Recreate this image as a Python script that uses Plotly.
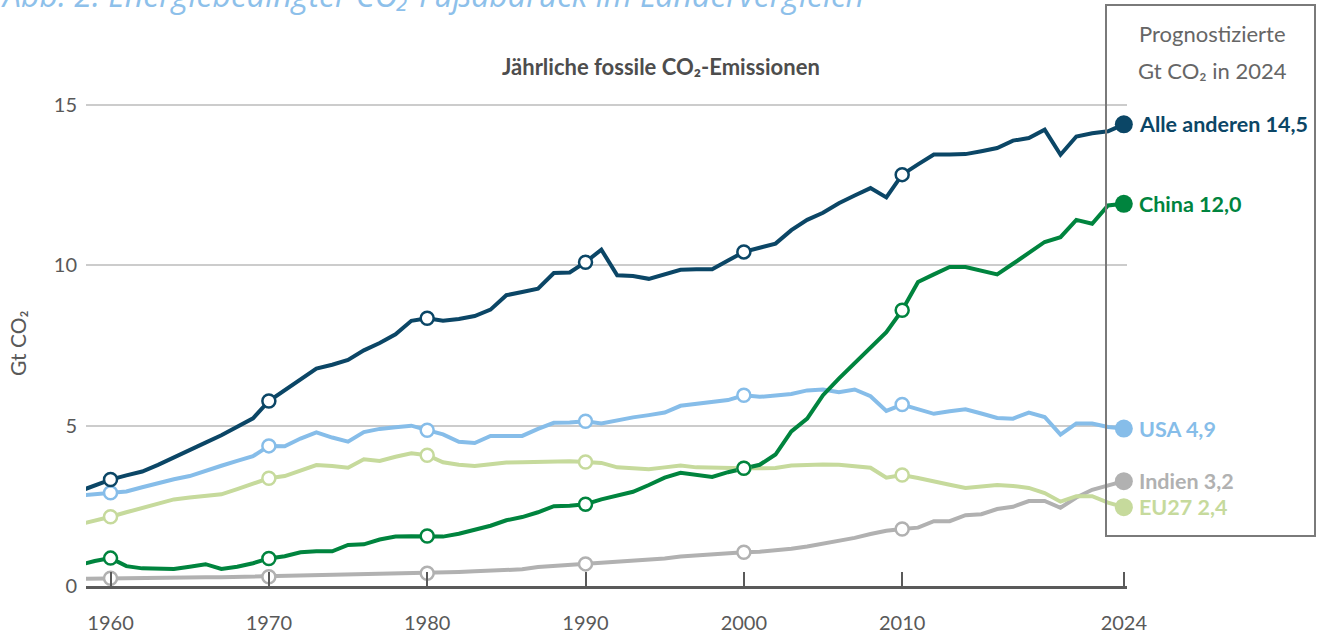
import plotly.graph_objects as go

# ---------------- data ----------------
years = list(range(1958, 2025))

alle_anderen = [2.95, 3.14, 3.32, 3.45, 3.57, 3.78, 4.00, 4.23, 4.47, 4.70, 4.95, 5.23,
                5.77, 6.10, 6.42, 6.78, 6.90, 7.05, 7.35, 7.58, 7.85, 8.27,
                8.35, 8.27, 8.33, 8.42, 8.62, 9.07, 9.17, 9.27, 9.76, 9.78,
                10.10, 10.49, 9.69, 9.67, 9.58, 9.72, 9.86, 9.88, 9.88, 10.15,
                10.42, 10.55, 10.68, 11.10, 11.42, 11.64, 11.94, 12.18, 12.41, 12.12,
                12.83, 13.15, 13.46, 13.46, 13.47, 13.56, 13.66, 13.89, 13.97, 14.23,
                13.45, 14.02, 14.12, 14.18, 14.40]

china = [0.65, 0.78, 0.87, 0.62, 0.55, 0.53, 0.53, 0.60, 0.68, 0.53, 0.60, 0.71,
         0.86, 0.93, 1.05, 1.08, 1.08, 1.28, 1.30, 1.45, 1.54, 1.55,
         1.56, 1.54, 1.63, 1.74, 1.88, 2.05, 2.15, 2.30, 2.49, 2.50,
         2.55, 2.70, 2.82, 2.94, 3.15, 3.38, 3.53, 3.48, 3.40, 3.55,
         3.67, 3.78, 4.10, 4.82, 5.22, 5.95, 6.47, 6.95, 7.45, 7.92,
         8.60, 9.48, 9.72, 9.95, 9.95, 9.83, 9.72, 10.05, 10.40, 10.73,
         10.88, 11.42, 11.30, 11.87, 11.92]

usa = [2.82, 2.87, 2.91, 2.95, 3.08, 3.22, 3.33, 3.43, 3.60, 3.75, 3.90, 4.05,
       4.37, 4.36, 4.60, 4.79, 4.63, 4.50, 4.80, 4.90, 4.95, 5.00,
       4.86, 4.73, 4.50, 4.46, 4.68, 4.68, 4.68, 4.90, 5.09, 5.10,
       5.14, 5.07, 5.17, 5.26, 5.33, 5.41, 5.62, 5.68, 5.74, 5.80,
       5.95, 5.90, 5.94, 5.99, 6.10, 6.13, 6.04, 6.13, 5.92, 5.46,
       5.66, 5.50, 5.37, 5.45, 5.51, 5.38, 5.24, 5.22, 5.41, 5.27,
       4.72, 5.07, 5.07, 4.96, 4.91]

eu27 = [1.92, 2.03, 2.16, 2.30, 2.43, 2.57, 2.70, 2.76, 2.81, 2.86, 3.02, 3.20,
        3.36, 3.43, 3.60, 3.77, 3.74, 3.69, 3.95, 3.90, 4.03, 4.14,
        4.08, 3.86, 3.78, 3.74, 3.80, 3.85, 3.86, 3.87, 3.89, 3.89,
        3.87, 3.84, 3.70, 3.66, 3.64, 3.70, 3.76, 3.70, 3.68, 3.66,
        3.67, 3.67, 3.68, 3.76, 3.79, 3.79, 3.78, 3.74, 3.69, 3.38,
        3.46, 3.37, 3.28, 3.16, 3.06, 3.12, 3.15, 3.12, 3.06, 2.90,
        2.63, 2.80, 2.80, 2.60, 2.46]

indien = [0.22, 0.23, 0.24, 0.24, 0.25, 0.25, 0.26, 0.26, 0.27, 0.27, 0.28, 0.28,
          0.29, 0.30, 0.31, 0.32, 0.33, 0.34, 0.35, 0.36, 0.37, 0.38,
          0.40, 0.42, 0.44, 0.46, 0.47, 0.48, 0.52, 0.59, 0.62, 0.65,
          0.69, 0.73, 0.76, 0.79, 0.82, 0.86, 0.92, 0.96, 0.99, 1.03,
          1.05, 1.07, 1.11, 1.16, 1.23, 1.31, 1.40, 1.50, 1.62, 1.72,
          1.78, 1.82, 2.02, 2.02, 2.21, 2.24, 2.40, 2.47, 2.65, 2.65,
          2.44, 2.76, 3.00, 3.15, 3.27]

series_names = ["Indien", "EU27", "USA", "China", "Alle anderen"]
series_values = [indien, eu27, usa, china, alle_anderen]
series_colors = ["#b1b1b1", "#c6da9c", "#86bde9", "#00843e", "#0b4666"]
end_labels = ["Indien 3,2", "EU27 2,4", "USA 4,9", "China 12,0", "Alle anderen 14,5"]

marker_years = [1960, 1970, 1980, 1990, 2000, 2010]
x_tick_vals = [1960, 1970, 1980, 1990, 2000, 2010, 2024]
y_tick_vals = [0, 5, 10, 15]

# ---------------- layout geometry ----------------
W, H = 1317, 636
L, R, T, B = 86, 190, 73, 50
FONT = "Lato"


def px_x(px):
    return (px - L) / (W - L - R)


def px_y(py):
    return (H - B - py) / (H - T - B)


fig = go.Figure()

# lines
for name, vals, col in zip(series_names, series_values, series_colors):
    fig.add_trace(go.Scatter(x=years, y=vals, mode="lines", name=name,
                             line=dict(color=col, width=4), hoverinfo="skip",
                             showlegend=False))

# decade markers (open) and end markers (filled)
for name, vals, col in zip(series_names, series_values, series_colors):
    mx = list(marker_years)
    my = [vals[years.index(y)] for y in marker_years]
    fig.add_trace(go.Scatter(x=mx, y=my, mode="markers", showlegend=False,
                             marker=dict(size=13, color="white",
                                         line=dict(color=col, width=2.5)),
                             cliponaxis=False, hoverinfo="skip"))
    fig.add_trace(go.Scatter(x=[years[-1]], y=[vals[-1]], mode="markers", showlegend=False,
                             marker=dict(size=18, color=col, line=dict(width=0)),
                             cliponaxis=False, hoverinfo="skip"))

annotations = []
for lab, vals, col in zip(end_labels, series_values, series_colors):
    annotations.append(dict(x=years[-1], y=vals[-1], xref="x", yref="y",
                            text="<b>" + lab + "</b>", showarrow=False,
                            xanchor="left", yanchor="middle", xshift=13,
                            font=dict(family=FONT, size=21.5, color=col)))

# titles
annotations.append(dict(x=px_x(-1), y=px_y(-5), xref="paper", yref="paper",
                        text="Abb. 2: Energiebedingter CO₂-Fußabdruck im Ländervergleich",
                        showarrow=False, xanchor="left", yanchor="middle",
                        font=dict(family="Open Sans", size=32, color="#8dc0ea", style="italic")))
annotations.append(dict(x=px_x(661), y=px_y(67), xref="paper", yref="paper",
                        text="<b>Jährliche fossile CO₂-Emissionen</b>", showarrow=False,
                        xanchor="center", yanchor="middle",
                        font=dict(family=FONT, size=22, color="#4d4d4d")))
annotations.append(dict(x=px_x(17), y=px_y(344), xref="paper", yref="paper",
                        text="Gt CO₂", textangle=-90, showarrow=False,
                        xanchor="center", yanchor="middle",
                        font=dict(family=FONT, size=21, color="#595959")))
annotations.append(dict(x=px_x(1212), y=px_y(33), xref="paper", yref="paper",
                        text="Prognostizierte", showarrow=False,
                        xanchor="center", yanchor="middle",
                        font=dict(family=FONT, size=22, color="#666666")))
annotations.append(dict(x=px_x(1212), y=px_y(70), xref="paper", yref="paper",
                        text="Gt CO₂ in 2024", showarrow=False,
                        xanchor="center", yanchor="middle",
                        font=dict(family=FONT, size=22, color="#666666")))

shapes = [dict(type="rect", xref="paper", yref="paper",
               x0=px_x(1106), x1=px_x(1315), y0=px_y(536), y1=px_y(5),
               line=dict(color="#7a7a7a", width=2), fillcolor="rgba(0,0,0,0)",
               layer="above")]

fig.update_layout(
    width=W, height=H,
    margin=dict(l=L, r=R, t=T, b=B, autoexpand=False),
    paper_bgcolor="white", plot_bgcolor="white",
    font=dict(family=FONT, color="#595959"),
    annotations=annotations,
    shapes=shapes,
    xaxis=dict(range=[1958.45, 2024.2], tickvals=x_tick_vals,
               ticktext=[str(v) for v in x_tick_vals],
               showgrid=False, zeroline=False, showline=True,
               linecolor="#5a5a5a", linewidth=2.5,
               ticks="inside", ticklen=14, tickwidth=2, tickcolor="#5a5a5a",
               tickfont=dict(family=FONT, size=20, color="#595959"),
               ticklabelstandoff=17, automargin=False, fixedrange=True),
    yaxis=dict(range=[0, 16], tickvals=y_tick_vals,
               ticktext=[str(v) for v in y_tick_vals],
               showgrid=True, gridcolor="#cccccc", gridwidth=1.5,
               zeroline=False, showline=False, ticks="",
               tickfont=dict(family=FONT, size=20, color="#595959"),
               ticklabelstandoff=8, automargin=False, fixedrange=True),
    showlegend=False,
)

# remove the default page margin so the figure starts at the window's top-left corner
fig.write_html("out.html",
               config={"displayModeBar": False},
               post_script="document.body.style.margin='0';document.body.style.overflow='hidden';")
